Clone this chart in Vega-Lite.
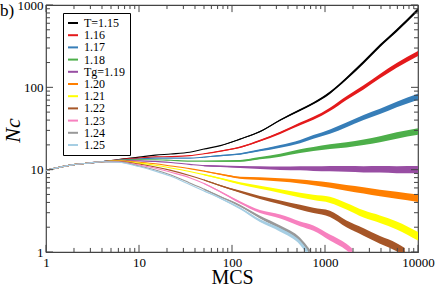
{
  "$schema": "https://vega.github.io/schema/vega-lite/v6.json",
  "width": 372,
  "height": 247,
  "autosize": {"type": "none"},
  "padding": {"left": 46, "top": 5, "right": 18, "bottom": 32},
  "background": "white",
  "title": {"text": "b)", "anchor": "start", "frame": "group", "orient": "top", "baseline": "alphabetic", "offset": 0, "dy": 34, "dx": -46, "fontSize": 17, "font": "Liberation Serif", "fontWeight": "normal", "color": "#000"},
  "config": {"view": {"stroke": "#444", "strokeWidth": 1.2}, "font": "Liberation Serif"},
  "datasets": {
    "xticks": [
      {"v":1,"kind":"major"},{"v":2,"kind":"minor"},{"v":3,"kind":"minor"},{"v":4,"kind":"minor"},{"v":5,"kind":"minor"},{"v":6,"kind":"minor"},{"v":7,"kind":"minor"},{"v":8,"kind":"minor"},{"v":9,"kind":"minor"},
      {"v":10,"kind":"major"},{"v":20,"kind":"minor"},{"v":30,"kind":"minor"},{"v":40,"kind":"minor"},{"v":50,"kind":"minor"},{"v":60,"kind":"minor"},{"v":70,"kind":"minor"},{"v":80,"kind":"minor"},{"v":90,"kind":"minor"},
      {"v":100,"kind":"major"},{"v":200,"kind":"minor"},{"v":300,"kind":"minor"},{"v":400,"kind":"minor"},{"v":500,"kind":"minor"},{"v":600,"kind":"minor"},{"v":700,"kind":"minor"},{"v":800,"kind":"minor"},{"v":900,"kind":"minor"},
      {"v":1000,"kind":"major"},{"v":2000,"kind":"minor"},{"v":3000,"kind":"minor"},{"v":4000,"kind":"minor"},{"v":5000,"kind":"minor"},{"v":6000,"kind":"minor"},{"v":7000,"kind":"minor"},{"v":8000,"kind":"minor"},{"v":9000,"kind":"minor"},
      {"v":10000,"kind":"major"}
    ],
    "yticks": [
      {"v":1,"kind":"major"},{"v":2,"kind":"minor"},{"v":3,"kind":"minor"},{"v":4,"kind":"minor"},{"v":5,"kind":"minor"},{"v":6,"kind":"minor"},{"v":7,"kind":"minor"},{"v":8,"kind":"minor"},{"v":9,"kind":"minor"},
      {"v":10,"kind":"major"},{"v":20,"kind":"minor"},{"v":30,"kind":"minor"},{"v":40,"kind":"minor"},{"v":50,"kind":"minor"},{"v":60,"kind":"minor"},{"v":70,"kind":"minor"},{"v":80,"kind":"minor"},{"v":90,"kind":"minor"},
      {"v":100,"kind":"major"},{"v":200,"kind":"minor"},{"v":300,"kind":"minor"},{"v":400,"kind":"minor"},{"v":500,"kind":"minor"},{"v":600,"kind":"minor"},{"v":700,"kind":"minor"},{"v":800,"kind":"minor"},{"v":900,"kind":"minor"},
      {"v":1000,"kind":"major"}
    ],
    "curves": [
    {"T":"1.15","x":1,"y":9.8},{"T":"1.15","x":1.5,"y":10.9},{"T":"1.15","x":2,"y":11.5},{"T":"1.15","x":3,"y":12.1},{"T":"1.15","x":4,"y":12.5},
    {"T":"1.15","x":6,"y":13.3},{"T":"1.15","x":10,"y":14.2},{"T":"1.15","x":15,"y":15.0},{"T":"1.15","x":22,"y":15.5},{"T":"1.15","x":35,"y":16.3},
    {"T":"1.15","x":50,"y":17.8,"lo":17.75,"hi":17.85},{"T":"1.15","x":75,"y":19.6,"lo":19.5,"hi":19.7},{"T":"1.15","x":122,"y":23.5,"lo":23.3,"hi":23.7},
    {"T":"1.15","x":200,"y":29,"lo":28.5,"hi":29.5},{"T":"1.15","x":330,"y":40,"lo":39.2,"hi":40.8},{"T":"1.15","x":540,"y":53,"lo":51.6,"hi":54.4},
    {"T":"1.15","x":750,"y":64,"lo":62.2,"hi":65.8},{"T":"1.15","x":1130,"y":86,"lo":83.2,"hi":88.9},{"T":"1.15","x":1700,"y":128,"lo":123.4,"hi":132.7},
    {"T":"1.15","x":2600,"y":202,"lo":194,"hi":210},{"T":"1.15","x":3900,"y":320,"lo":307,"hi":333},{"T":"1.15","x":5900,"y":490,"lo":469,"hi":512},{"T":"1.15","x":10000,"y":880,"lo":840,"hi":921},

    {"T":"1.16","x":1,"y":9.8},{"T":"1.16","x":1.5,"y":10.9},{"T":"1.16","x":2,"y":11.5},{"T":"1.16","x":3,"y":12.1},{"T":"1.16","x":4,"y":12.5},
    {"T":"1.16","x":6,"y":13.2},{"T":"1.16","x":10,"y":13.8},{"T":"1.16","x":15,"y":14.3},{"T":"1.16","x":22,"y":14.4},{"T":"1.16","x":35,"y":14.8},
    {"T":"1.16","x":50,"y":15.6,"lo":15.5,"hi":15.7},{"T":"1.16","x":75,"y":16.8,"lo":16.6,"hi":17.0},{"T":"1.16","x":122,"y":18.7,"lo":18.35,"hi":19.05},
    {"T":"1.16","x":200,"y":22.5,"lo":21.97,"hi":23.04},{"T":"1.16","x":330,"y":28,"lo":27.2,"hi":28.8},{"T":"1.16","x":540,"y":36,"lo":34.7,"hi":37.4},
    {"T":"1.16","x":750,"y":42,"lo":40.3,"hi":43.8},{"T":"1.16","x":1130,"y":54,"lo":51.5,"hi":56.6},{"T":"1.16","x":1700,"y":74,"lo":70.2,"hi":78},
    {"T":"1.16","x":2600,"y":100,"lo":94.4,"hi":105.9},{"T":"1.16","x":3900,"y":137,"lo":129,"hi":145.5},{"T":"1.16","x":5900,"y":185,"lo":173.4,"hi":197.4},{"T":"1.16","x":10000,"y":258,"lo":241,"hi":276},

    {"T":"1.17","x":1,"y":9.8},{"T":"1.17","x":1.5,"y":10.9},{"T":"1.17","x":2,"y":11.5},{"T":"1.17","x":3,"y":12.1},{"T":"1.17","x":4,"y":12.5},
    {"T":"1.17","x":6,"y":13.1},{"T":"1.17","x":10,"y":13.5},{"T":"1.17","x":15,"y":13.8},{"T":"1.17","x":22,"y":13.8},{"T":"1.17","x":35,"y":13.8},
    {"T":"1.17","x":50,"y":14.2,"lo":14.1,"hi":14.3},{"T":"1.17","x":75,"y":14.8,"lo":14.58,"hi":15.02},{"T":"1.17","x":122,"y":15.5,"lo":15.17,"hi":15.84},
    {"T":"1.17","x":200,"y":17.2,"lo":16.7,"hi":17.7},{"T":"1.17","x":330,"y":19.2,"lo":18.5,"hi":19.9},{"T":"1.17","x":540,"y":22,"lo":21.0,"hi":23.0},
    {"T":"1.17","x":750,"y":25,"lo":23.7,"hi":26.3},{"T":"1.17","x":1130,"y":29,"lo":27.3,"hi":30.8},{"T":"1.17","x":1700,"y":35,"lo":32.8,"hi":37.3},
    {"T":"1.17","x":2600,"y":43,"lo":40.1,"hi":46.1},{"T":"1.17","x":3900,"y":51,"lo":47.4,"hi":54.9},{"T":"1.17","x":5900,"y":62,"lo":57.4,"hi":67},{"T":"1.17","x":10000,"y":77,"lo":70.9,"hi":83.6},

    {"T":"1.18","x":1,"y":9.8},{"T":"1.18","x":1.5,"y":10.9},{"T":"1.18","x":2,"y":11.5},{"T":"1.18","x":3,"y":12.1},{"T":"1.18","x":4,"y":12.5},
    {"T":"1.18","x":6,"y":13.0},{"T":"1.18","x":10,"y":13.2},{"T":"1.18","x":15,"y":13.2},{"T":"1.18","x":22,"y":13.0},{"T":"1.18","x":35,"y":12.7},
    {"T":"1.18","x":50,"y":12.7,"lo":12.62,"hi":12.78},{"T":"1.18","x":75,"y":12.7,"lo":12.49,"hi":12.92},{"T":"1.18","x":122,"y":12.8,"lo":12.49,"hi":13.12},
    {"T":"1.18","x":200,"y":13.8,"lo":13.35,"hi":14.27},{"T":"1.18","x":330,"y":15,"lo":14.4,"hi":15.6},{"T":"1.18","x":540,"y":16.8,"lo":15.95,"hi":17.7},
    {"T":"1.18","x":750,"y":17.8,"lo":16.8,"hi":18.85},{"T":"1.18","x":1130,"y":19,"lo":17.8,"hi":20.3},{"T":"1.18","x":1700,"y":20,"lo":18.6,"hi":21.5},
    {"T":"1.18","x":2600,"y":21.5,"lo":19.9,"hi":23.2},{"T":"1.18","x":3900,"y":23.5,"lo":21.6,"hi":25.5},{"T":"1.18","x":5900,"y":26,"lo":23.8,"hi":28.4},{"T":"1.18","x":10000,"y":29,"lo":26.5,"hi":31.8},

    {"T":"1.19","x":1,"y":9.8},{"T":"1.19","x":1.5,"y":10.9},{"T":"1.19","x":2,"y":11.5},{"T":"1.19","x":3,"y":12.1},{"T":"1.19","x":4,"y":12.5},
    {"T":"1.19","x":6,"y":12.9},{"T":"1.19","x":10,"y":12.8},{"T":"1.19","x":15,"y":12.6},{"T":"1.19","x":22,"y":12.2},{"T":"1.19","x":35,"y":11.6},
    {"T":"1.19","x":50,"y":11.2,"lo":11.04,"hi":11.36},{"T":"1.19","x":75,"y":11.0,"lo":10.8,"hi":11.2},{"T":"1.19","x":122,"y":10.8,"lo":10.5,"hi":11.1},
    {"T":"1.19","x":200,"y":10.6,"lo":10.2,"hi":11.0},{"T":"1.19","x":330,"y":10.4,"lo":9.93,"hi":10.89},{"T":"1.19","x":540,"y":10.4,"lo":9.82,"hi":11.01},
    {"T":"1.19","x":750,"y":10.3,"lo":9.65,"hi":10.99},{"T":"1.19","x":1130,"y":10.3,"lo":9.57,"hi":11.08},{"T":"1.19","x":1700,"y":10.2,"lo":9.41,"hi":11.06},
    {"T":"1.19","x":2600,"y":10.1,"lo":9.26,"hi":11.02},{"T":"1.19","x":3900,"y":10.1,"lo":9.22,"hi":11.07},{"T":"1.19","x":5900,"y":10.0,"lo":9.06,"hi":11.04},{"T":"1.19","x":10000,"y":10.0,"lo":9.02,"hi":11.09},

    {"T":"1.20","x":1,"y":9.8},{"T":"1.20","x":1.5,"y":10.9},{"T":"1.20","x":2,"y":11.5},{"T":"1.20","x":3,"y":12.1},{"T":"1.20","x":4,"y":12.5},
    {"T":"1.20","x":6,"y":12.8},{"T":"1.20","x":10,"y":12.3},{"T":"1.20","x":15,"y":11.8},{"T":"1.20","x":22,"y":11.1},{"T":"1.20","x":35,"y":10.3},
    {"T":"1.20","x":50,"y":9.6,"lo":9.47,"hi":9.73},{"T":"1.20","x":75,"y":8.8,"lo":8.64,"hi":8.97},{"T":"1.20","x":122,"y":8.0,"lo":7.78,"hi":8.22},
    {"T":"1.20","x":200,"y":7.8,"lo":7.51,"hi":8.1},{"T":"1.20","x":330,"y":7.5,"lo":7.16,"hi":7.85},{"T":"1.20","x":540,"y":7.2,"lo":6.8,"hi":7.62},
    {"T":"1.20","x":750,"y":6.9,"lo":6.47,"hi":7.36},{"T":"1.20","x":1130,"y":6.5,"lo":6.04,"hi":6.99},{"T":"1.20","x":1700,"y":6.0,"lo":5.54,"hi":6.5},
    {"T":"1.20","x":2600,"y":5.6,"lo":5.13,"hi":6.11},{"T":"1.20","x":3900,"y":5.2,"lo":4.74,"hi":5.7},{"T":"1.20","x":5900,"y":4.9,"lo":4.44,"hi":5.41},{"T":"1.20","x":10000,"y":4.5,"lo":4.06,"hi":4.99},

    {"T":"1.21","x":1,"y":9.8},{"T":"1.21","x":1.5,"y":10.9},{"T":"1.21","x":2,"y":11.5},{"T":"1.21","x":3,"y":12.1},{"T":"1.21","x":4,"y":12.5},
    {"T":"1.21","x":6,"y":12.7},{"T":"1.21","x":10,"y":12.0},{"T":"1.21","x":15,"y":11.3},{"T":"1.21","x":22,"y":10.5},{"T":"1.21","x":35,"y":9.5},
    {"T":"1.21","x":50,"y":8.7,"lo":8.56,"hi":8.84},{"T":"1.21","x":75,"y":7.8,"lo":7.64,"hi":7.96},{"T":"1.21","x":122,"y":6.8,"lo":6.59,"hi":7.02},
    {"T":"1.21","x":200,"y":6.1,"lo":5.85,"hi":6.36},{"T":"1.21","x":330,"y":5.5,"lo":5.22,"hi":5.8},{"T":"1.21","x":540,"y":4.9,"lo":4.58,"hi":5.24},
    {"T":"1.21","x":750,"y":4.6,"lo":4.27,"hi":4.95},{"T":"1.21","x":1130,"y":4.3,"lo":3.95,"hi":4.68},{"T":"1.21","x":1700,"y":3.6,"lo":3.28,"hi":3.95},
    {"T":"1.21","x":2600,"y":2.9,"lo":2.62,"hi":3.21},{"T":"1.21","x":3900,"y":2.5,"lo":2.25,"hi":2.78},{"T":"1.21","x":5900,"y":2.1,"lo":1.875,"hi":2.35},{"T":"1.21","x":10000,"y":1.55,"lo":1.375,"hi":1.75},

    {"T":"1.22","x":1,"y":9.8},{"T":"1.22","x":1.5,"y":10.9},{"T":"1.22","x":2,"y":11.5},{"T":"1.22","x":3,"y":12.1},{"T":"1.22","x":4,"y":12.5},
    {"T":"1.22","x":6,"y":12.6},{"T":"1.22","x":10,"y":11.7},{"T":"1.22","x":15,"y":10.8},{"T":"1.22","x":22,"y":9.8},{"T":"1.22","x":35,"y":8.5},
    {"T":"1.22","x":50,"y":7.5,"lo":7.38,"hi":7.62},{"T":"1.22","x":75,"y":6.4,"lo":6.27,"hi":6.53},{"T":"1.22","x":122,"y":5.4,"lo":5.23,"hi":5.57},
    {"T":"1.22","x":200,"y":4.6,"lo":4.41,"hi":4.8},{"T":"1.22","x":330,"y":4.0,"lo":3.8,"hi":4.22},{"T":"1.22","x":540,"y":3.5,"lo":3.27,"hi":3.74},
    {"T":"1.22","x":750,"y":3.2,"lo":2.97,"hi":3.44},{"T":"1.22","x":1130,"y":2.9,"lo":2.66,"hi":3.16},{"T":"1.22","x":1700,"y":2.2,"lo":2.0,"hi":2.41},
    {"T":"1.22","x":2600,"y":1.75,"lo":1.58,"hi":1.94},{"T":"1.22","x":3900,"y":1.4,"lo":1.26,"hi":1.56},{"T":"1.22","x":5900,"y":1.14,"lo":1.02,"hi":1.28},{"T":"1.22","x":7200,"y":1.0,"lo":0.89,"hi":1.12},

    {"T":"1.23","x":1,"y":9.8},{"T":"1.23","x":1.5,"y":10.9},{"T":"1.23","x":2,"y":11.5},{"T":"1.23","x":3,"y":12.1},{"T":"1.23","x":4,"y":12.5},
    {"T":"1.23","x":6,"y":12.5},{"T":"1.23","x":10,"y":11.4},{"T":"1.23","x":15,"y":10.4},{"T":"1.23","x":22,"y":9.3},{"T":"1.23","x":35,"y":8.0},
    {"T":"1.23","x":50,"y":6.8,"lo":6.69,"hi":6.91},{"T":"1.23","x":75,"y":5.4,"lo":5.29,"hi":5.51},{"T":"1.23","x":122,"y":4.0,"lo":3.88,"hi":4.13},
    {"T":"1.23","x":200,"y":3.1,"lo":2.97,"hi":3.23},{"T":"1.23","x":330,"y":2.7,"lo":2.56,"hi":2.85},{"T":"1.23","x":540,"y":2.2,"lo":2.06,"hi":2.35},
    {"T":"1.23","x":750,"y":1.95,"lo":1.81,"hi":2.1},{"T":"1.23","x":1130,"y":1.5,"lo":1.38,"hi":1.63},{"T":"1.23","x":1700,"y":1.15,"lo":1.05,"hi":1.26},{"T":"1.23","x":1960,"y":1.0,"lo":0.91,"hi":1.1},

    {"T":"1.24","x":1,"y":9.8},{"T":"1.24","x":1.5,"y":10.9},{"T":"1.24","x":2,"y":11.5},{"T":"1.24","x":3,"y":12.1},{"T":"1.24","x":4,"y":12.5},
    {"T":"1.24","x":6,"y":12.4},{"T":"1.24","x":10,"y":11.1},{"T":"1.24","x":15,"y":9.9},{"T":"1.24","x":22,"y":8.6},{"T":"1.24","x":35,"y":6.9},
    {"T":"1.24","x":50,"y":5.8,"lo":5.71,"hi":5.89},{"T":"1.24","x":75,"y":4.7,"lo":4.61,"hi":4.79},{"T":"1.24","x":122,"y":3.65,"lo":3.54,"hi":3.76},
    {"T":"1.24","x":200,"y":2.65,"lo":2.55,"hi":2.76},{"T":"1.24","x":330,"y":2.0,"lo":1.9,"hi":2.1},{"T":"1.24","x":540,"y":1.4,"lo":1.31,"hi":1.49},{"T":"1.24","x":690,"y":1.0,"lo":0.93,"hi":1.07},

    {"T":"1.25","x":1,"y":9.8},{"T":"1.25","x":1.5,"y":10.9},{"T":"1.25","x":2,"y":11.5},{"T":"1.25","x":3,"y":12.1},{"T":"1.25","x":4,"y":12.5},
    {"T":"1.25","x":6,"y":12.3},{"T":"1.25","x":10,"y":10.9},{"T":"1.25","x":15,"y":9.6},{"T":"1.25","x":22,"y":8.3},{"T":"1.25","x":35,"y":6.6},
    {"T":"1.25","x":50,"y":5.5,"lo":5.42,"hi":5.58},{"T":"1.25","x":75,"y":4.5,"lo":4.41,"hi":4.59},{"T":"1.25","x":122,"y":3.4,"lo":3.3,"hi":3.5},
    {"T":"1.25","x":200,"y":2.4,"lo":2.31,"hi":2.5},{"T":"1.25","x":330,"y":1.85,"lo":1.76,"hi":1.95},{"T":"1.25","x":540,"y":1.3,"lo":1.22,"hi":1.38},{"T":"1.25","x":650,"y":1.0,"lo":0.93,"hi":1.07}
    ]
  },
  "layer": [
    {
      "data": {"name": "curves"},
      "transform": [{"filter": "isValid(datum.lo)"}],
      "mark": {"type": "area", "clip": true, "opacity": 1, "interpolate": "monotone"},
      "encoding": {
        "x": {"field": "x", "type": "quantitative",
          "scale": {"type": "log", "domain": [1, 10000]},
          "axis": {"orient": "bottom", "values": [1,10,100,1000,10000], "format": "d",
            "ticks": false, "domain": false, "grid": false,
            "labelFont": "Liberation Serif", "labelFontSize": 13, "labelColor": "#000", "labelPadding": 4,
            "labelFlush": false, "labelOverlap": false, "labelBound": false,
            "title": "MCS", "titleFont": "Liberation Serif", "titleFontSize": 20, "titleFontWeight": "normal", "titleColor": "#000",
            "titleY": 31, "titleBaseline": "alphabetic"}},
        "y": {"field": "lo", "type": "quantitative",
          "scale": {"type": "log", "domain": [1, 1000]},
          "axis": {"orient": "left", "values": [1,10,100,1000], "format": "d",
            "ticks": false, "domain": false, "grid": false,
            "labelFont": "Liberation Serif", "labelFontSize": 13, "labelColor": "#000", "labelPadding": 3,
            "labelFlush": false, "labelOverlap": false, "labelBound": false,
            "title": "Nc", "titleFont": "Liberation Serif", "titleFontSize": 22, "titleFontStyle": "italic", "titleFontWeight": "normal", "titleColor": "#000",
            "titleX": -22, "titleY": 125, "titleBaseline": "bottom", "titleAngle": -90}},
        "y2": {"field": "hi"},
        "color": {"field": "T", "type": "nominal",
          "scale": {"domain": ["1.15","1.16","1.17","1.18","1.19","1.20","1.21","1.22","1.23","1.24","1.25"],
                    "range": ["#000000","#e41a1c","#377eb8","#4daf4a","#984ea3","#ff7f00","#ffff00","#a65628","#f781bf","#999999","#a6cee3"]},
          "legend": {"orient": "none", "legendX": 17, "legendY": 8, "title": null,
            "symbolType": "stroke", "symbolSize": 100, "symbolStrokeWidth": 2,
            "labelFont": "Liberation Serif", "labelFontSize": 12, "labelColor": "#000", "labelLimit": 0, "labelOffset": 5,
            "strokeColor": "#000", "fillColor": "#fff", "padding": 4, "rowPadding": 0.2,
            "labelExpr": "datum.label == '1.15' ? 'T=1.15' : datum.label == '1.19' ? 'Tg=1.19' : datum.label"}}
      }
    },
    {
      "data": {"name": "curves"},
      "mark": {"type": "line", "clip": true, "strokeWidth": 1.1, "interpolate": "monotone"},
      "encoding": {
        "x": {"field": "x", "type": "quantitative"},
        "y": {"field": "y", "type": "quantitative"},
        "color": {"field": "T", "type": "nominal",
          "legend": {"orient": "none", "legendX": 17, "legendY": 8, "title": null,
            "symbolType": "stroke", "symbolSize": 100, "symbolStrokeWidth": 2,
            "labelFont": "Liberation Serif", "labelFontSize": 12, "labelColor": "#000", "labelLimit": 0, "labelOffset": 5,
            "strokeColor": "#000", "fillColor": "#fff", "padding": 4, "rowPadding": 0.2,
            "labelExpr": "datum.label == '1.15' ? 'T=1.15' : datum.label == '1.19' ? 'Tg=1.19' : datum.label"}}
      }
    },
    {
      "data": {"name": "xticks"},
      "transform": [{"filter": "datum.kind == 'major'"}],
      "mark": {"type": "rule", "color": "#444", "strokeWidth": 1},
      "encoding": {"x": {"field": "v", "type": "quantitative"}, "y": {"datum": 1, "type": "quantitative"}, "y2": {"datum": 1.22}}
    },
    {
      "data": {"name": "xticks"},
      "transform": [{"filter": "datum.kind == 'minor'"}],
      "mark": {"type": "rule", "color": "#444", "strokeWidth": 1},
      "encoding": {"x": {"field": "v", "type": "quantitative"}, "y": {"datum": 1, "type": "quantitative"}, "y2": {"datum": 1.12}}
    },
    {
      "data": {"name": "xticks"},
      "transform": [{"filter": "datum.kind == 'major'"}],
      "mark": {"type": "rule", "color": "#444", "strokeWidth": 1},
      "encoding": {"x": {"field": "v", "type": "quantitative"}, "y": {"datum": 1000, "type": "quantitative"}, "y2": {"datum": 820}}
    },
    {
      "data": {"name": "xticks"},
      "transform": [{"filter": "datum.kind == 'minor'"}],
      "mark": {"type": "rule", "color": "#444", "strokeWidth": 1},
      "encoding": {"x": {"field": "v", "type": "quantitative"}, "y": {"datum": 1000, "type": "quantitative"}, "y2": {"datum": 893}}
    },
    {
      "data": {"name": "yticks"},
      "transform": [{"filter": "datum.kind == 'major'"}],
      "mark": {"type": "rule", "color": "#444", "strokeWidth": 1},
      "encoding": {"y": {"field": "v", "type": "quantitative"}, "x": {"datum": 1, "type": "quantitative"}, "x2": {"datum": 1.19}}
    },
    {
      "data": {"name": "yticks"},
      "transform": [{"filter": "datum.kind == 'minor'"}],
      "mark": {"type": "rule", "color": "#444", "strokeWidth": 1},
      "encoding": {"y": {"field": "v", "type": "quantitative"}, "x": {"datum": 1, "type": "quantitative"}, "x2": {"datum": 1.104}}
    },
    {
      "data": {"name": "yticks"},
      "transform": [{"filter": "datum.kind == 'major'"}],
      "mark": {"type": "rule", "color": "#444", "strokeWidth": 1},
      "encoding": {"y": {"field": "v", "type": "quantitative"}, "x": {"datum": 10000, "type": "quantitative"}, "x2": {"datum": 8410}}
    },
    {
      "data": {"name": "yticks"},
      "transform": [{"filter": "datum.kind == 'minor'"}],
      "mark": {"type": "rule", "color": "#444", "strokeWidth": 1},
      "encoding": {"y": {"field": "v", "type": "quantitative"}, "x": {"datum": 10000, "type": "quantitative"}, "x2": {"datum": 9060}}
    }
  ]
}
